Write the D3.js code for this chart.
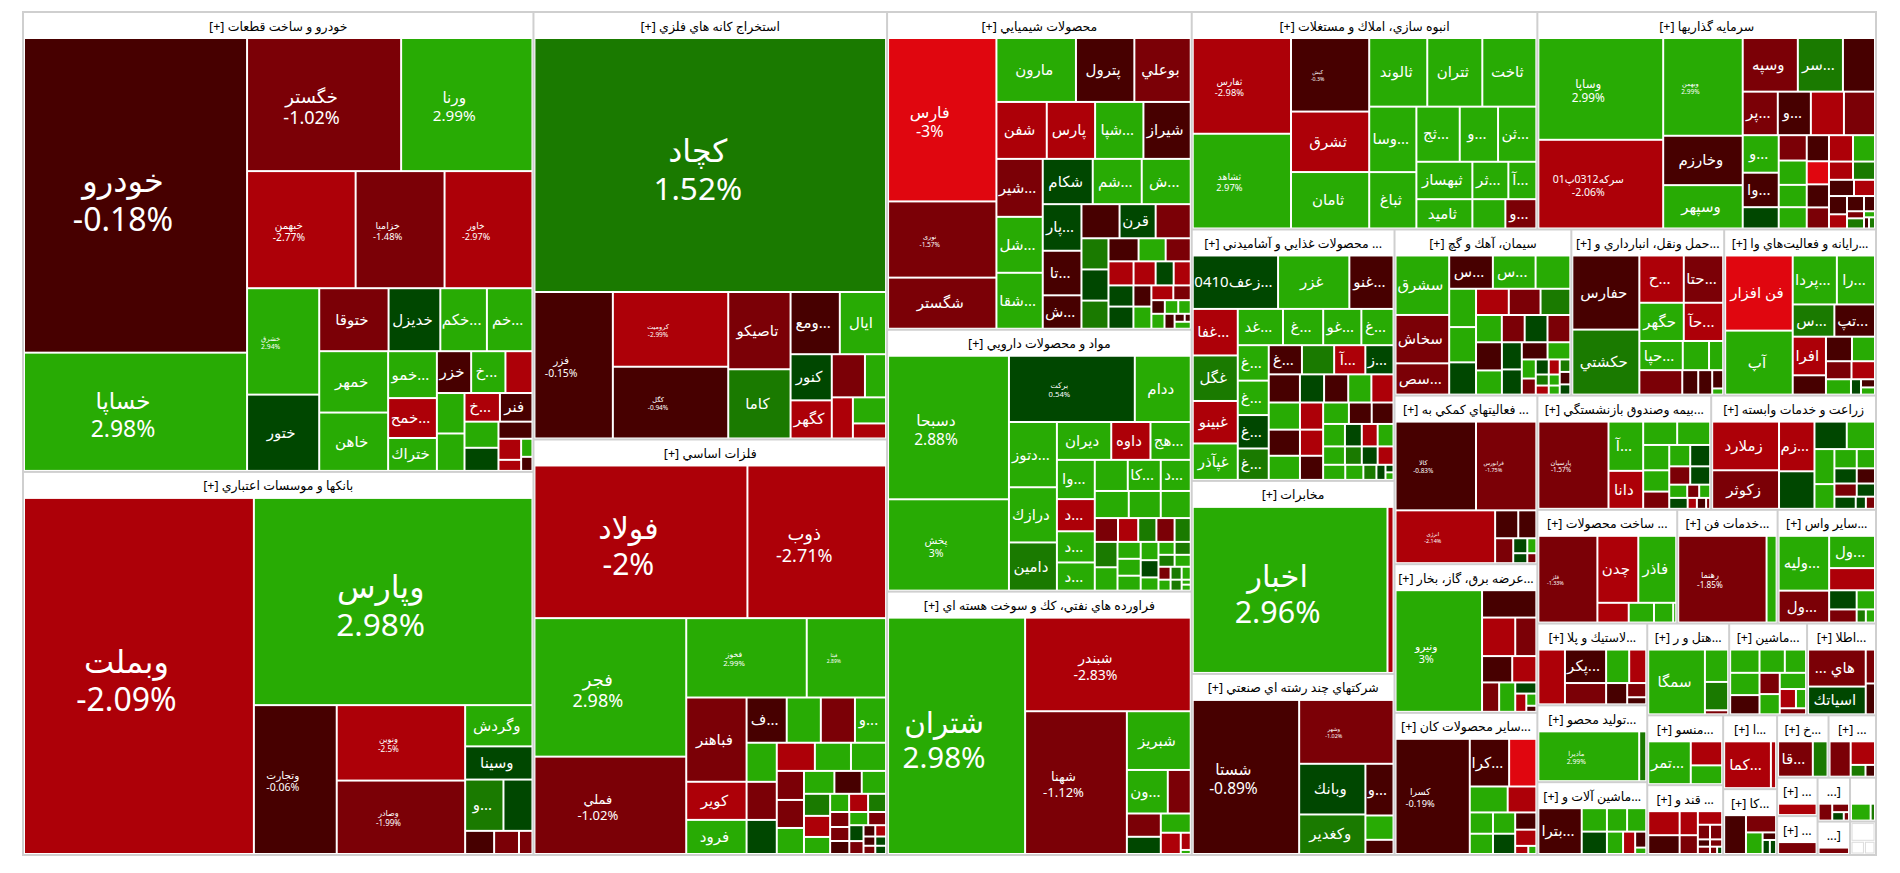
<!DOCTYPE html>
<html>
<head>
<meta charset="utf-8">
<script src="https://cdnjs.cloudflare.com/ajax/libs/d3/7.8.5/d3.min.js"></script>
<style>
  html, body { margin: 0; padding: 0; background: #fff; }
  text { font-family: "Noto Sans", "DejaVu Sans", sans-serif; }
</style>
</head>
<body>
<div id="treemap"></div>
<script>
// each list: ["h"|"v", ...children], a leaf is [name, percent change, traded value]
// unnamed cells are too small to be labelled, their percent is read from the colour
const autoCells = ["h",
  ["v", ["خودرو", -0.18, 67824], ["خساپا", 2.98, 25488]],
  ["v",
    ["h", ["خگستر", -1.02, 19817], ["ورنا", 2.99, 16891]],
    ["h", ["خبهمن", -2.77, 12285], ["خزامیا", -1.48, 10062], ["خاور", -2.97, 9945]],
    ["h",
      ["v", ["خشرق", 2.94, 7420], ["ختور", 0.5, 5320]],
      ["v",
        ["h", ["ختوقا", -1.5, 4221], ["خدیزل", 0.5, 3150], ["خکم...", 2.5, 2835], ["خم...", 2.5, 2772]],
        ["h",
          ["v", ["خمهر", 2.5, 4087], ["خاهن", 2.5, 3886]],
          ["v", ["خمو...", 2.5, 2209], ["خمح...", -2.5, 1880], ["ختراك", 2.5, 1551]],
          ["v",
            ["h", ["خزر", -0.5, 1386], ["خ...", 2.5, 1386], ["", -2.5, 1092]],
            ["h",
              ["v", ["", 2.5, 1080], ["", 2.5, 999]],
              ["v",
                ["h", ["خ...", -2.5, 980], ["فنر", -0.5, 900]],
                ["h",
                  ["v", ["", 2.5, 858], ["", 0.5, 759]],
                  ["v", ["", -0.5, 561],
                    ["h", ["v", ["", -2.5, 462], ["", -2.5, 242]], ["v", ["", 2.5, 198], ["", -0.5, 154]]]]]]]]]]]]];

const bankCells = ["h",
  ["وبملت", -2.09, 78588],
  ["v",
    ["وپارس", 2.98, 55414],
    ["h",
      ["وتجارت", -0.06, 11840],
      ["v", ["ونوین", -2.5, 9300], ["وصادر", -1.99, 9052]],
      ["v", ["وگردش", 2.5, 2665], ["وسینا", 0.5, 2145],
        ["h", ["و...", 1.5, 1887], ["", 0.5, 1428]],
        ["h", ["", -0.5, 644], ["", -1.5, 552], ["", -1.5, 299]]]]]];

const mineCells = ["v",
  ["کچاد", 1.52, 88550],
  ["h",
    ["فزر", -0.15, 11388],
    ["v", ["کرومیت", -2.99, 8550], ["کگل", -0.94, 8208]],
    ["v", ["تاصیکو", -1.5, 4774], ["کاما", 1.5, 4278]],
    ["v",
      ["h", ["ومع...", -0.5, 3038], ["ایال", 2.5, 2852]],
      ["h",
        ["v", ["کنور", 0.5, 1886], ["کگهر", -2.5, 1558]],
        ["v",
          ["h", ["", -1.5, 1419], ["", 2.5, 903]],
          ["h", ["", -2.5, 861], ["v", ["", 2.5, 858], ["", -2.5, 495]]]]]]]];

const metalCells = ["v",
  ["h", ["فولاد", -2, 32224], ["ذوب", -2.71, 20976]],
  ["h",
    ["v", ["فجر", 2.98, 20838], ["فملي", -1.02, 14647]],
    ["v",
      ["h", ["فخوز", 2.99, 9480], ["فیتا", 2.89, 6241]],
      ["h",
        ["v", ["فباهنر", -1.5, 5040], ["کویر", -2.5, 2280], ["فرود", 2.5, 2040]],
        ["v",
          ["h", ["ف...", -0.5, 1800], ["", 2.5, 1530], ["", -1.5, 1530], ["و...", 2.5, 1395]],
          ["h",
            ["v", ["", 2.5, 1170], ["", -1.5, 1140], ["", 0.5, 1020]],
            ["v",
              ["h", ["", -2.5, 1064], ["", 2.5, 1008], ["", 2.5, 980]],
              ["h",
                ["v", ["", -1.5, 783], ["", -1.5, 756], ["", 2.5, 702]],
                ["v",
                  ["h", ["", 2.5, 690], ["", -0.5, 621], ["", 2.5, 552]],
                  ["h",
                    ["v", ["", 1.5, 572], ["", -2.5, 546], ["", 2.5, 442]],
                    ["v",
                      ["h", ["", 2.5, 342], ["", -2.5, 342], ["", 1.5, 324]],
                      ["h",
                        ["v", ["", -1.5, 285], ["", -1.5, 266], ["", -0.5, 247]],
                        ["v",
                          ["h", ["", 2.5, 247], ["", -1.5, 234]],
                          ["h",
                            ["v", ["", 0.5, 224], ["", -1.5, 182]],
                            ["v",
                              ["h", ["", -0.5, 132], ["", -2.5, 121]],
                              ["h", ["v", ["", -0.5, 108], ["", -1.5, 96]], ["v", ["", 0.5, 99], ["", 0.5, 88]]]]]]]]]]]]]]]]]];

const chemCells = ["h",
  ["v", ["فارس", -3, 17604], ["نوری", -1.57, 8208], ["شگستر", -1.5, 5508]],
  ["v",
    ["h", ["مارون", 2.5, 5056], ["پترول", -0.5, 3712], ["بوعلي", -1.5, 3584]],
    ["h", ["شفن", -2.5, 2850], ["پارس", -2.5, 2736], ["شپا...", 2.5, 2736], ["شیراز", -0.5, 2679]],
    ["h",
      ["v", ["شیر...", -1.5, 2668], ["شل...", 2.5, 2576], ["شقا...", 2.5, 2576]],
      ["v",
        ["h", ["شکام", 0.5, 2250], ["شم...", 2.5, 2205], ["ش...", 2.5, 2205]],
        ["h",
          ["v", ["پار...", 0.5, 1794], ["تا...", -0.5, 1716], ["ش...", -0.5, 1287]],
          ["v",
            ["h", ["", -0.5, 1292], ["قرن", 0.5, 1224], ["", -1.5, 1190]],
            ["h",
              ["v", ["", 1.5, 837], ["", 0.5, 837], ["", 1.5, 756]],
              ["v",
                ["h", ["", -0.5, 690], ["", 2.5, 621], ["", -1.5, 575]],
                ["h", ["", -2.5, 600], ["", -2.5, 528], ["", 0.5, 432], ["", -2.5, 408]],
                ["h",
                  ["v", ["", 0.5, 525], ["", 0.5, 550]],
                  ["v", ["", -0.5, 378], ["", 2.5, 396]],
                  ["v",
                    ["h", ["", -2.5, 322], ["", -1.5, 256]],
                    ["h", ["", -0.5, 182], ["", 2.5, 182], ["", 2.5, 169]],
                    ["h", ["", 2.5, 195], ["", -0.5, 150],
                      ["v", ["h", ["", -0.5, 80], ["", -0.5, 48]], ["", 2.5, 112]]]]]]]]]]]]];

const pharmaCells = ["h",
  ["v", ["دسبحا", 2.88, 17303], ["پخش", 3, 11011]],
  ["v",
    ["h", ["برکت", 0.54, 8316], ["ددام", 2.5, 3696]],
    ["h",
      ["v", ["دتوز...", 2.5, 3120], ["درازك", 2.5, 2640], ["دامین", 1.5, 2304]],
      ["v",
        ["h", ["دیران", 2.5, 2052], ["داوه", -2.5, 1482], ["هج...", 2.5, 1520]],
        ["h",
          ["v", ["وا...", 2.5, 1482], ["د...", -2.5, 1216], ["د...", 2.5, 1178], ["د...", 2.5, 1064]],
          ["v",
            ["h", ["", 2.5, 1023], ["کا...", 2.5, 1023], ["د...", 2.5, 930]],
            ["h", ["", 2.5, 918], ["", 2.5, 864], ["", 2.5, 810]],
            ["h", ["", -1.5, 552], ["", -2.5, 480], ["", 1.5, 432], ["", -1.5, 432], ["", 1.5, 384]],
            ["h",
              ["v", ["", 1.5, 575], ["", 2.5, 529]],
              ["v", ["", 2.5, 391], ["", 2.5, 391], ["", 2.5, 345]],
              ["v", ["", 2.5, 324], ["", 0.5, 306], ["", 2.5, 234]],
              ["v",
                ["h", ["", 2.5, 208], ["", 1.5, 208]],
                ["h", ["", 1.5, 192], ["", 2.5, 192]],
                ["h",
                  ["v", ["", -1.5, 156], ["", 2.5, 132]],
                  ["v", ["", 1.5, 143], ["", 1.5, 121]],
                  ["v", ["", 2.5, 117], ["", 2.5, 45], ["", 2.5, 54]]]]]]]]]]];

const oilCells = ["h",
  ["شتران", 2.98, 32058],
  ["v",
    ["شبندر", -2.83, 15345],
    ["h",
      ["شهنا", -1.12, 14382],
      ["v",
        ["شبریز", 2.5, 3712],
        ["h", ["ون...", 2.5, 1763], ["", -1.5, 989]],
        ["h",
          ["v", ["", -1.5, 782], ["", 0.5, 578]],
          ["v", ["", 2.5, 570],
            ["h", ["", -2.5, 420], ["v", ["", -2.5, 170], ["", 2.5, 40]]]]]]]]];

const estateCells = ["h",
  ["v", ["ثفارس", -2.98, 9310], ["ثشاهد", 2.97, 9212]],
  ["v", ["کیش", -0.3, 5694], ["ثشرق", -2.5, 4680], ["ثامان", 2.5, 4368]],
  ["v",
    ["h", ["ثالوند", 2.5, 3944], ["ثتران", 2.5, 3740], ["ثاخت", 2.5, 3672]],
    ["h",
      ["v", ["وسا...", 2.5, 3055], ["ثباغ", 2.5, 2632]],
      ["v",
        ["h", ["ثج...", 2.5, 2365], ["و...", 2.5, 2090], ["ثن...", 2.5, 2090]],
        ["h", ["ثبهساز", 2.5, 2072], ["ثر...", 2.5, 1332], ["آ...", 2.5, 1036]],
        ["h", ["ثامید", 2.5, 1624], ["", 2.5, 957], ["و...", -1.5, 899]]]]]];

const investCells = ["h",
  ["v", ["وساپا", 2.99, 12524], ["سركه0312پ01", -2.06, 10912]],
  ["v", ["وبهمن", 2.99, 7663], ["وخارزم", -0.5, 3871], ["وسپهر", 2.5, 3397]],
  ["v",
    ["h", ["وسپه", -1.5, 2915], ["سر...", 1.5, 2385], ["", -0.5, 1696]],
    ["h", ["پر...", -1.5, 1505], ["و...", -0.5, 1419], ["", -2.5, 1419], ["", -1.5, 1333]],
    ["h",
      ["v", ["و...", 2.5, 1332], ["وا...", -0.5, 1224], ["", 0.5, 756]],
      ["v", ["", -1.5, 700], ["", 2.5, 672], ["", 2.5, 616], ["", 2.5, 588]],
      ["v", ["", -0.5, 572], ["", -3.5, 506], ["", -0.5, 506], ["", -1.5, 462]],
      ["v",
        ["h", ["", -2.5, 624], ["", 2.5, 572]],
        ["h", ["", -2.5, 432], ["", 1.5, 396]],
        ["h", ["", -0.5, 400], ["", -2.5, 336]],
        ["h",
          ["v", ["", -0.5, 324], ["", -2.5, 252]],
          ["v",
            ["h", ["", -0.5, 255], ["", -0.5, 165]],
            ["h",
              ["v", ["", -1.5, 119], ["", 1.5, 170]],
              ["v", ["", 2.5, 66], ["h", ["", -0.5, 55], ["", 1.5, 66]]]]]]]]]];

const foodCells = ["v",
  ["h", ["زعف0410...", 0.5, 4505], ["غزر", 2.5, 3763], ["غنو...", -0.5, 2332]],
  ["h",
    ["v", ["غفا...", -2.5, 2070], ["غگل", 1.5, 2025], ["غبینو", -2.5, 1890], ["غپآذر", 2.5, 1620]],
    ["v",
      ["h", ["غد...", 2.5, 1620], ["غ...", 2.5, 1440], ["غو...", 2.5, 1368], ["غ...", 2.5, 1152]],
      ["h",
        ["v", ["غ...", 2.5, 1085], ["غ...", 2.5, 1054], ["غ...", 0.5, 1023], ["غ...", 1.5, 961]],
        ["v",
          ["h", ["غ...", -0.5, 957], ["", 1.5, 928], ["آ...", -2.5, 899], ["ز...", 0.5, 812]],
          ["h", ["", -0.5, 868], ["", 0.5, 672], ["", -0.5, 672], ["", 2.5, 644], ["", -2.5, 616]],
          ["h",
            ["v", ["", 2.5, 837], ["", -0.5, 806], ["", 2.5, 744]],
            ["v", ["", -2.5, 621], ["", -2.5, 598], ["", -0.5, 552]],
            ["v",
              ["h", ["", 2.5, 546], ["", -0.5, 483], ["", -0.5, 462]],
              ["h", ["", 2.5, 484], ["", 0.5, 374], ["", -2.5, 352], ["", 2.5, 352]],
              ["h", ["", 2.5, 396], ["", 1.5, 306], ["", 0.5, 288], ["", -2.5, 288]],
              ["h", ["", 2.5, 330], ["", 2.5, 270], ["", 1.5, 195], ["", 0.5, 135],
                ["v", ["", 0.5, 60], ["", 2.5, 60]]]]]]]]]];

const telecomCells = ["h", ["اخبار", 2.96, 32010], ["", -2.5, 990]];

const groupCells = ["h",
  ["شستا", -0.89, 16112],
  ["v",
    ["وشهر", -1.02, 5922],
    ["h",
      ["v", ["وبانك", 0.5, 3300], ["وكغدير", 1.5, 2574]],
      ["v", ["و...", -0.5, 1428], ["", 2.5, 672], ["", -0.5, 392]]]]];

const cementCells = ["h",
  ["v", ["سشرق", 2.5, 3186], ["سخاش", -1.5, 2592], ["سص...", -1.5, 1674]],
  ["v",
    ["h", ["س...", -0.5, 1452], ["س...", 2.5, 1419], ["", 2.5, 1155]],
    ["h",
      ["v", ["", 2.5, 1026], ["", 2.5, 945], ["", 0.5, 864]],
      ["v",
        ["h", ["", -2.5, 858], ["", -1.5, 832], ["", 1.5, 780]],
        ["h", ["", 2.5, 702], ["", -1.5, 621], ["", 0.5, 621], ["", -1.5, 621]],
        ["h",
          ["v", ["", -0.5, 728], ["", 2.5, 624]],
          ["v", ["", 0.5, 540], ["", 0.5, 500]],
          ["v",
            ["h", ["", -0.5, 442], ["", 2.5, 391]],
            ["h",
              ["v", ["", 2.5, 266], ["", -1.5, 224]],
              ["v", ["", 0.5, 195], ["", 1.5, 143], ["", -2.5, 117]],
              ["v", ["", -2.5, 165], ["", 2.5, 121], ["", 2.5, 99]],
              ["v", ["", 1.5, 132], ["", -0.5, 132], ["", 0.5, 108]]]]]]]]];

const transportCells = ["h",
  ["v", ["حفارس", -0.5, 4891], ["حکشتي", 1.5, 4288]],
  ["v",
    ["h", ["ح...", -2.5, 2068], ["حتا...", -1.5, 1833]],
    ["h", ["حگهر", 2.5, 1672], ["حآ...", -2.5, 1482]],
    ["h", ["حپا...", 2.5, 1247], ["", 2.5, 754], ["", 2.5, 406]],
    ["h", ["", -1.5, 1032], ["", -0.5, 384], ["", -0.5, 336], ["v", ["", -0.5, 198], ["", 2.5, 66]]]]];

const computerCells = ["h",
  ["v", ["فن افزار", -3.5, 4958], ["آپ", 2.5, 4221]],
  ["v",
    ["h", ["پردا...", 2.5, 2112], ["را...", 2.5, 1824]],
    ["h", ["س...", 1.5, 1312], ["تپ...", -0.5, 1280]],
    ["h",
      ["v", ["افرا", -2.5, 1254], ["", -0.5, 627]],
      ["v",
        ["h", ["", -0.5, 624], ["", 2.5, 552]],
        ["h", ["", -1.5, 450], ["", -2.5, 414]],
        ["h", ["", 2.5, 375], ["", 0.5, 150], ["v", ["", -0.5, 112], ["", 2.5, 98]]]]]]];

const supportCells = ["v",
  ["h", ["کالا", -0.83, 7120], ["فرابورس", -1.75, 5340]],
  ["h",
    ["انرژی", -2.14, 5247],
    ["v",
      ["h", ["", -0.5, 644], ["", -0.5, 504]],
      ["h", ["", -1.5, 450], ["v", ["", 0.5, 210], ["", 0.5, 140]], ["v", ["", 2.5, 135], ["", -1.5, 90]]]]]];

const powerCells = ["h",
  ["ونیرو", 3, 10320],
  ["v",
    ["", -0.5, 1458],
    ["h", ["", -2.5, 1254], ["", -1.5, 798]],
    ["h", ["", -0.5, 780], ["", -2.5, 624]],
    ["h", ["", -1.5, 493], ["", 2.5, 464],
      ["v", ["", 0.5, 231],
        ["h", ["", -2.5, 198], ["v", ["", 2.5, 120], ["", -0.5, 60]]]]]]];

const mineralCells = ["h",
  ["کسرا", -0.19, 8362],
  ["v",
    ["h", ["کرا...", -0.5, 1833], ["", -3.5, 1269]],
    ["h", ["", 2.5, 962], ["", -2.5, 728]],
    ["h",
      ["v", ["", 2.5, 483], ["", 2.5, 460]],
      ["v", ["", 2.5, 462], ["", 0.5, 440]],
      ["v", ["", -0.5, 357], ["", -2.5, 336], ["h", ["", -2.5, 104], ["", 2.5, 64]]]]]];

const insuranceCells = ["h",
  ["پارسیان", -1.57, 6020],
  ["v", ["آ...", 2.5, 1680], ["دانا", -2.5, 1295]],
  ["v",
    ["h", ["", 2.5, 782], ["", 2.5, 759]],
    ["h",
      ["v", ["", 2.5, 650], ["", 2.5, 546], ["", -1.5, 442]],
      ["v",
        ["h", ["", 2.5, 441], ["", 0.5, 420]],
        ["h", ["", -1.5, 378], ["", 0.5, 360]],
        ["h", ["", 2.5, 234], ["", -1.5, 156], ["", 2.5, 143]],
        ["h", ["", 0.5, 198], ["", -2.5, 99], ["", -0.5, 99], ["", -1.5, 44]]]]]];

const farmCells = ["h",
  ["v", ["زملارد", -2.5, 3168], ["زكوثر", -1.5, 2508]],
  ["v", ["زم...", -2.5, 1715], ["", 0.5, 1295]],
  ["v",
    ["h", ["", 0.5, 864], ["", 2.5, 756]],
    ["h",
      ["v", ["", 2.5, 680], ["", 2.5, 480]],
      ["v",
        ["h", ["", 2.5, 418], ["", 2.5, 342]],
        ["h", ["", 0.5, 330], ["", -0.5, 270]],
        ["h", ["", -1.5, 286], ["", 0.5, 234]],
        ["h", ["", 0.5, 252], ["", 0.5, 120], ["", -1.5, 108]]]]]];

const productCells = ["h",
  ["فلز", -1.33, 5133],
  ["v",
    ["h", ["چدن", -2.5, 2747], ["فاذر", 2.5, 2546]],
    ["h", ["", -2.5, 620], ["", 2.5, 500], ["", 2.5, 380], ["", 2.5, 60]]]];

const techCells = ["h", ["رهنما", -1.85, 7656], ["", 2.5, 870]];

const otherCells = ["h",
  ["v", ["ولیه...", 2.5, 2695], ["ول...", -1.5, 1568]],
  ["v",
    ["ول...", 2.5, 1440],
    ["", -2.5, 990],
    ["h",
      ["v", ["", 0.5, 513], ["", -1.5, 351]],
      ["v", ["", 2.5, 342], ["h", ["", 1.5, 117], ["", 2.5, 117]]]]]];

const rubberCells = ["h",
  ["", -2.5, 1431],
  ["v",
    ["h", ["پكر...", -0.5, 1353], ["", 2.5, 759], ["", -2.5, 561]],
    ["h", ["", -1.5, 861], ["", -0.5, 441], ["v", ["", -1.5, 266], ["", -0.5, 133]]]]];

const hotelCells = ["h", ["سمگا", 2.5, 3591], ["v", ["", 2.5, 736], ["", 1.5, 644], ["", -1.5, 92]]];

const machineCells = ["v",
  ["h", ["", 2.5, 667], ["", 2.5, 575], ["", 2.5, 483]],
  ["h",
    ["v", ["", 2.5, 638], ["", -0.5, 551]],
    ["v", ["", -1.5, 420], ["", 2.5, 400]],
    ["v", ["", 2.5, 416], ["h", ["", -2.5, 304], ["", 2.5, 190]], ["", -1.5, 156]]]];

const infoCells = ["h",
  ["v", ["... هاي", -1.5, 2016], ["اسیاتك", 0.5, 1512]],
  ["v", ["", -1.5, 297], ["", -0.5, 270]]];

const tolidCells = ["h", ["مادیرا", 2.99, 4800], ["", 1.5, 336]];

const toolCells = ["h",
  ["بترا...", -0.5, 1849],
  ["v",
    ["h", ["", 2.5, 550], ["", 2.5, 440], ["", 2.5, 418]],
    ["h", ["", 0.5, 525], ["", 2.5, 336], ["", -2.5, 252], ["v", ["", -0.5, 165], ["", 2.5, 66]]]]];

const mensoCells = ["h", ["تمر...", 2.5, 1722], ["v", ["", -2.5, 713], ["", 2.5, 558]]];

const sugarCells = ["h",
  ["v",
    ["h", ["", -2.5, 713], ["", -2.5, 414]],
    ["h", ["", -0.5, 558], ["", -1.5, 324]]],
  ["v",
    ["", -2.5, 312],
    ["h", ["", -1.5, 168], ["", -1.5, 168]],
    ["h", ["", -0.5, 84], ["", -1.5, 84]],
    ["h", ["", -1.5, 84], ["", -1.5, 49], ["", 0.5, 35]]]];

const kamaCells = ["h", ["کما...", -2.5, 2025], ["", -2.5, 225]];

const kaCells = ["h",
  ["", -0.5, 756],
  ["v",
    ["", -1.5, 464],
    ["h", ["", 2.5, 320], ["v", ["", -0.5, 91], ["h", ["", 0.5, 91], ["", 0.5, 78]]]]]];

const ghaCells = ["h", ["قا...", -1.5, 1089], ["", 1.5, 462]];

const dotsCells = ["h",
  ["", -1.5, 660],
  ["v", ["", -2.5, 506], ["h", ["", 1.5, 154], ["", -0.5, 99]]]];

const smallACells = ["h", ["", -2.5, 370]];
const smallBCells = ["h", ["", -1.5, 333]];
const smallCCells = ["h",
  ["", -1.5, 208],
  ["v", ["", -1.5, 128], ["h", ["", 0.5, 88], ["", -1.5, 40]]]];
const smallDCells = ["h", ["", -1.5, 116]];
const smallECells = ["h", ["", 2.5, 288], ["", 1.5, 64]];
const smallFCells = ["v", ["", null, 500], ["h", ["", null, 190], ["", null, 150]]];

const sectorCells = [
  autoCells, bankCells, mineCells, metalCells, chemCells, pharmaCells, oilCells, estateCells, investCells,
  foodCells, telecomCells, groupCells, cementCells, transportCells, computerCells,
  supportCells, powerCells, mineralCells, insuranceCells, farmCells, productCells, techCells, otherCells,
  rubberCells, tolidCells, toolCells, hotelCells, machineCells, infoCells,
  mensoCells, sugarCells, kamaCells, kaCells, ghaCells, dotsCells,
  smallACells, smallBCells, smallCCells, smallDCells, smallECells, smallFCells
];

const sectorTitles = [
  "خودرو و ساخت قطعات [+]", "بانكها و موسسات اعتباري [+]", "استخراج كانه هاي فلزي [+]", "فلزات اساسي [+]",
  "محصولات شيميايي [+]", "مواد و محصولات دارويي [+]", "فراورده هاي نفتي، كك و سوخت هسته اي [+]",
  "انبوه سازي، املاك و مستغلات [+]", "سرمايه گذاريها [+]",
  "... محصولات غذايي و آشاميدني [+]", "مخابرات [+]", "شركتهاي چند رشته اي صنعتي [+]",
  "سيمان، آهك و گچ [+]", "...حمل ونقل، انبارداري و [+]", "...رايانه و فعاليت‌هاي وا [+]",
  "... فعاليتهاي كمكي به [+]", "...عرضه برق، گاز، بخار [+]", "...ساير محصولات كان [+]",
  "...بيمه وصندوق بازنشستگي [+]", "زراعت و خدمات وابسته [+]",
  "... ساخت محصولات [+]", "...خدمات فن [+]", "...ساير واس [+]",
  "...لاستيك و پلا [+]", "...توليد محصو [+]", "...ماشين آلات و [+]",
  "...هتل و ر [+]", "...ماشين [+]", "...اطلا [+]",
  "...منسو [+]", "... قند و [+]", "...ا [+]", "...كا [+]", "...خ [+]", "... [+]",
  "... [+]", "... [+]", "[...", "[...", "", ""
];

// sector shares, header included
const sectorWeights = [
  235571, 196224, 151689, 147441, 97143, 80063, 80520, 75428, 73902,
  51156, 39281, 36845, 29471, 25475, 25308,
  24167, 21307, 20378, 19923, 18893, 15960, 11457, 11229,
  9020, 8470, 8030, 7544, 7176, 6348,
  5320, 5320, 3996, 3564, 3219, 2969,
  1559, 1580, 1430, 1089, 1144, 871
];

// how the sectors nest, numbers point into the lists above
const sectorLayout = ["h", ["v", 0, 1], ["v", 2, 3], ["v", 4, 5, 6],
  ["v", ["h", 7, 8],
    ["h", ["v", 9, 10, 11],
      ["v", ["h", 12, 13, 14],
        ["h", ["v", 15, 16, 17],
          ["v", ["h", 18, 19], ["h", 20, 21, 22],
            ["h", ["v", 23, 24, 25],
              ["v", ["h", 26, 27, 28],
                ["h", ["v", 29, 30], ["v", 31, 32],
                  ["v", ["h", 33, 34],
                    ["h", ["v", 35, 36], ["v", 37, 38], ["v", 39, 40]]]]]]]]]]]];

// font size of the cells which also print their percent
const labelSizes = {
  "خودرو": 32, "خساپا": 23, "خگستر": 18, "ورنا": 15.3, "خبهمن": 10.3, "خزامیا": 9.4, "خاور": 9, "خشرق": 6.8,
  "وبملت": 32, "وپارس": 31.6, "ونوین": 8.2, "وصادر": 8, "وتجارت": 10.5,
  "کچاد": 31.5, "فزر": 10.4, "کرومیت": 6.5, "کگل": 6.5,
  "فولاد": 30, "ذوب": 18, "فجر": 18, "فملي": 13, "فخوز": 7.7, "فیتا": 5,
  "فارس": 16, "نوری": 6.5, "دسبحا": 15.5, "پخش": 10.5, "برکت": 7.7,
  "شتران": 29.5, "شبندر": 14, "شهنا": 13,
  "ثفارس": 9.3, "ثشاهد": 9.3, "کیش": 5.2, "وساپا": 11.8, "سركه0312پ01": 10.5, "وبهمن": 6.5,
  "اخبار": 30.5, "شستا": 15.5, "وشهر": 5.4, "کالا": 6.4, "فرابورس": 5.4, "انرژی": 5.4,
  "ونیرو": 10.8, "کسرا": 9.3, "پارسیان": 6.4, "فلز": 5.4, "رهنما": 8.2, "مادیرا": 6.8
};

const color = d3.scaleThreshold()
  .domain([-2.995, -1.995, -0.995, 0, 1, 2])
  .range(["#e0060f", "#ad0008", "#7b0006", "#470000", "#004700", "#1a7a00", "#28ab04"]);

function isGroup(d) { return d[0] === "h" || d[0] === "v" }

function buildCell(d) {
  if (isGroup(d)) return { dir: d[0], children: d.slice(1).map(buildCell) }
  return { name: d[0], pct: d[1], value: d[2] }
}

function buildSector(d) {
  if (typeof d === "number") {
    return {
      sector: true, title: sectorTitles[d], weight: sectorWeights[d],
      dir: sectorCells[d][0], children: sectorCells[d].slice(1).map(buildCell)
    }
  }
  return { dir: d[0], children: d.slice(1).map(buildSector) }
}

var width = 1855, height = 845;

var root = d3.hierarchy(buildSector(sectorLayout))
root.eachAfter(function(n) {
  if (!n.children) n.value = n.data.value
  else if (n.data.sector) n.value = n.data.weight
  else n.value = d3.sum(n.children, c => c.value)
})

// sector values count the header too, so split on what the children add up to
function tile(node, x0, y0, x1, y1) {
  var keep = node.value
  node.value = d3.sum(node.children, c => c.value)
  if (node.data.dir === "h") d3.treemapDice(node, x0, y0, x1, y1)
  else d3.treemapSlice(node, x0, y0, x1, y1)
  node.value = keep
}

function edge(n) { return n.data.sector ? 1 : (n.depth === 0 ? 2 : 0) }

d3.treemap()
  .size([width, height])
  .tile(tile)
  .paddingInner(2)
  .paddingTop(n => n.data.sector ? (n.data.title || n.data.weight > 1000 ? 26 : 1) : edge(n))
  .paddingRight(edge)
  .paddingBottom(edge)
  .paddingLeft(edge)(root)

var svg = d3.select("#treemap")
  .append("svg")
  .attr("width", 1900)
  .attr("height", 873)
  .style("display", "block")
  .append("g")
  .attr("transform", "translate(22,11)");

svg.append("rect")
  .attr("width", width)
  .attr("height", height)
  .attr("fill", "#cfcfcf");

var sectors = root.descendants().filter(n => n.data.sector)

svg.selectAll("rect.sector")
  .data(sectors)
  .enter()
  .append("rect")
  .attr("class", "sector")
  .attr("x", d => d.x0)
  .attr("y", d => d.y0)
  .attr("width", d => d.x1 - d.x0)
  .attr("height", d => d.y1 - d.y0)
  .attr("fill", "#fff");

svg.selectAll("text.title")
  .data(sectors.filter(d => d.data.title))
  .enter()
  .append("text")
  .attr("class", "title")
  .attr("x", d => (d.x0 + d.x1) / 2)
  .attr("y", d => d.y0 + 13)
  .attr("direction", "rtl")
  .attr("text-anchor", "middle")
  .attr("dominant-baseline", "central")
  .attr("font-size", 12.5)
  .attr("fill", "#000")
  .text(d => d.data.title);

var leaves = root.leaves()

svg.selectAll("rect.cell")
  .data(leaves)
  .enter()
  .append("rect")
  .attr("class", "cell")
  .attr("x", d => d.x0)
  .attr("y", d => d.y0)
  .attr("width", d => Math.max(0, d.x1 - d.x0))
  .attr("height", d => Math.max(0, d.y1 - d.y0))
  .attr("fill", d => d.data.pct === null ? "#fff" : color(d.data.pct))
  .attr("stroke", d => d.data.pct === null ? "#dcdcdc" : "none");

// cells with a percent sit left of centre in the reference
var named = leaves.filter(d => d.data.name)
function sizeOf(d) { return labelSizes[d.data.name] }
function labelX(d) { return (d.x0 + d.x1) / 2 + (sizeOf(d) ? -12.5 : -2) }
function midY(d) { return (d.y0 + d.y1) / 2 }

svg.selectAll("text.name")
  .data(named)
  .enter()
  .append("text")
  .attr("class", "name")
  .attr("x", labelX)
  .attr("y", d => sizeOf(d) ? midY(d) - sizeOf(d) * 0.1 : midY(d) + 5)
  .attr("text-anchor", "middle")
  .attr("fill", "#fff")
  .attr("font-size", d => sizeOf(d) || 15)
  .text(d => d.data.name);

svg.selectAll("text.pct")
  .data(named.filter(sizeOf))
  .enter()
  .append("text")
  .attr("class", "pct")
  .attr("x", labelX)
  .attr("y", d => midY(d) + sizeOf(d) * 1.1)
  .attr("text-anchor", "middle")
  .attr("fill", "#fff")
  .attr("font-size", sizeOf)
  .text(d => d.data.pct + "%");
</script>
</body>
</html>
